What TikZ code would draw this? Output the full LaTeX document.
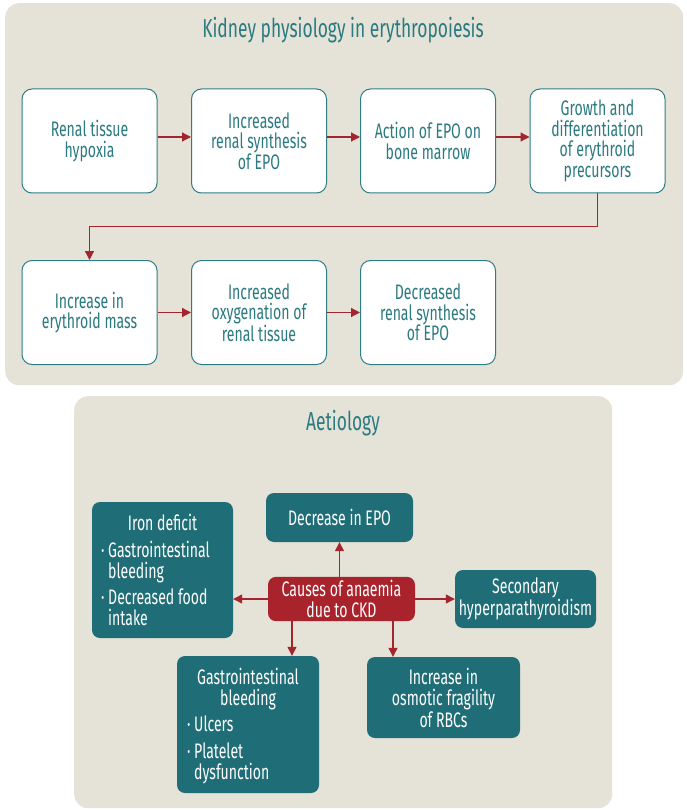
\documentclass[tikz,border=0pt]{standalone}
\usepackage{fontspec}
\setmainfont{Fira Sans}[FakeStretch=0.67]
\usetikzlibrary{arrows.meta}
\definecolor{panelbg}{HTML}{E5E2D7}
\definecolor{tealtext}{HTML}{2A7A80}
\definecolor{tealline}{HTML}{2F7D84}
\definecolor{tealbox}{HTML}{1F6E77}
\definecolor{redbox}{HTML}{A8232B}
\definecolor{arrowred}{HTML}{A3262E}
\tikzset{
  panel/.style={fill=panelbg, rounded corners=14pt, anchor=north west, inner sep=0pt},
  wbox/.style={draw=tealline, line width=1pt, fill=white, rounded corners=10pt,
    minimum width=135pt, minimum height=104pt, align=center, text=tealtext,
    font=\fontsize{21}{20.5}\selectfont},
  tbox/.style={fill=tealbox, rounded corners=8pt, text=white, align=center,
    font=\fontsize{21}{21.5}\selectfont},
  rbox/.style={fill=redbox, rounded corners=8pt, text=white, align=center,
    font=\fontsize{21}{21}\selectfont},
  ttl/.style={text=tealtext, font=\fontsize{26}{28}\selectfont},
  arr/.style={draw=arrowred, line width=1.2pt, -{Triangle[length=9pt,width=9pt]}},
  ln/.style={text=white, font=\fontsize{21}{21}\selectfont, inner sep=0pt, anchor=base west},
  lnc/.style={text=white, font=\fontsize{21}{21}\selectfont, inner sep=0pt, anchor=base}
}
\begin{document}
\begin{tikzpicture}[x=1pt,y=-1pt]
\useasboundingbox (0,0) rectangle (686,810);
\fill[white] (0,0) rectangle (686,810);
% panel 1
\node[panel, minimum width=678pt, minimum height=382pt] (p1) at (5,3) {};
\node[ttl] (t1) at (343,30) {Kidney physiology in erythropoiesis};
\node[wbox] (a) at (89.5,141) {Renal tissue\\hypoxia};
\node[wbox] (b) at (259,141) {Increased\\renal synthesis\\of EPO};
\node[wbox] (c) at (428,141) {Action of EPO on\\bone marrow};
\node[wbox] (d) at (597.5,141) {Growth and\\differentiation\\of erythroid\\precursors};
\node[wbox] (e) at (89.5,312.5) {Increase in\\erythroid mass};
\node[wbox] (f) at (259,312.5) {Increased\\oxygenation of\\renal tissue};
\node[wbox] (g) at (428,312.5) {Decreased\\renal synthesis\\of EPO};
\draw[arr] ([yshift=4pt]a.east) -- ([yshift=4pt]b.west);
\draw[arr] ([yshift=4pt]b.east) -- ([yshift=4pt]c.west);
\draw[arr] ([yshift=4pt]c.east) -- ([yshift=4pt]d.west);
\draw[arr] (d.south) -- ++(0,33) -| (e.north);
\draw[arr] (e) -- (f);
\draw[arr] (f) -- (g);
% panel 2
\node[panel, minimum width=538pt, minimum height=412pt] (p2) at (74,396) {};
\node[ttl] (t2) at (343,423) {Aetiology};
\node[rbox, minimum width=147pt, minimum height=42pt] (cause) at (341.5,599) {Causes of anaemia\\due to CKD};
\node[tbox, minimum width=147pt, minimum height=49pt] (ed) at (339.5,517.5) {Decrease in EPO};
\node[tbox, minimum width=141pt, minimum height=58pt] (sec) at (525.5,599) {Secondary\\hyperparathyroidism};
\node[tbox, minimum width=141pt, minimum height=136pt] (iron) at (162.5,570) {};
\node[tbox, minimum width=142pt, minimum height=137pt] (gi) at (248,724.5) {};
\node[tbox, minimum width=153pt, minimum height=81pt] (osm) at (443.5,697.5) {Increase in\\osmotic fragility\\of RBCs};
% iron deficit texts
\node[lnc] (i0) at (162.5,530) {Iron deficit};
\node[ln] (i1b) at (101,557) {\textperiodcentered};
\node[ln] (i1) at (108,557) {Gastrointestinal};
\node[ln] (i2) at (108,578) {bleeding};
\node[ln] (i3b) at (101,604) {\textperiodcentered};
\node[ln] (i3) at (108,604) {Decreased food};
\node[ln] (i4) at (108,625) {intake};
% GI texts
\node[lnc] (g0) at (248,684) {Gastrointestinal};
\node[lnc] (g1) at (248,705) {bleeding};
\node[ln] (g2b) at (187,731) {\textperiodcentered};
\node[ln] (g2) at (194,731) {Ulcers};
\node[ln] (g3b) at (187,758) {\textperiodcentered};
\node[ln] (g3) at (194,758) {Platelet};
\node[ln] (g4) at (194,779) {dysfunction};
\draw[arr] (ed.south |- cause.north) -- (ed.south);
\draw[arr] (cause.west) -- (cause.west -| iron.east);
\draw[arr] (cause.east) -- (cause.east -| sec.west);
\draw[arr] ([xshift=-49.5pt]cause.south) -- ([xshift=-49.5pt]cause.south |- gi.north);
\draw[arr] ([xshift=51.5pt]cause.south) -- ([xshift=51.5pt]cause.south |- osm.north);
\end{tikzpicture}
\end{document}
